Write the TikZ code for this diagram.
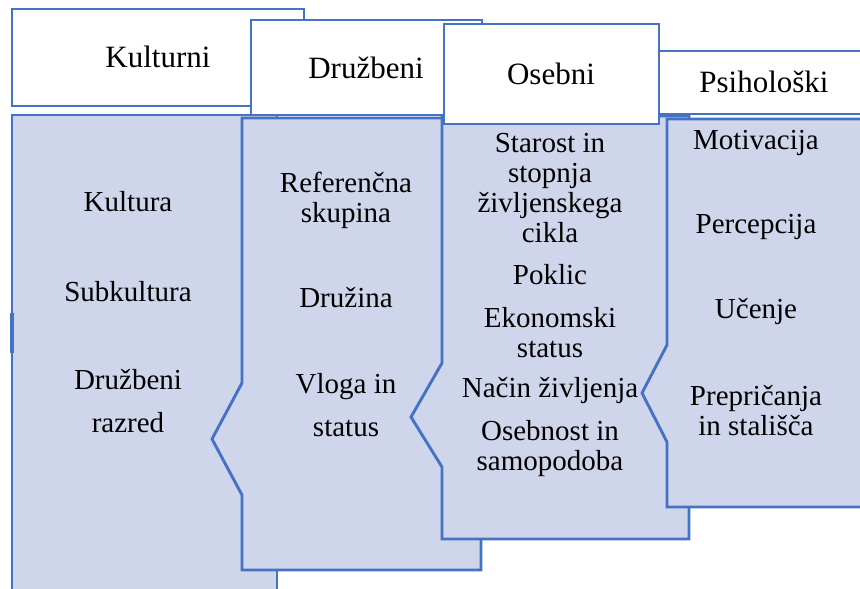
\documentclass[tikz,border=0pt]{standalone}
\usepackage{fontspec}
\setmainfont{Liberation Serif}
\definecolor{edge}{HTML}{4472C4}
\definecolor{panelfill}{HTML}{CFD5EA}
\begin{document}
\begin{tikzpicture}[x=1pt,y=-1pt,
  panel/.style={draw=edge,fill=panelfill,line width=2.9pt,line join=miter},
  headbox/.style={draw=edge,fill=white,line width=2.9pt},
  headtext/.style={inner sep=0pt,font=\fontsize{31}{36}\selectfont},
  item/.style={inner sep=0pt,align=center,font=\fontsize{29}{30}\selectfont},
  wideitem/.style={item,font=\fontsize{29}{43}\selectfont}]
\useasboundingbox (0,0) rectangle (860,589);
\clip (0,0) rectangle (860,589);
\fill[white] (0,0) rectangle (860,589);

% Kulturni
\draw[headbox] (12,9) rectangle (304,106);
\draw[panel] (12,115) rectangle (277,620);
\draw[edge,line width=3.8pt] (11.7,313) -- (11.7,353);

% Družbeni
\draw[headbox] (251,20) rectangle (482,115);
\draw[panel] (242,118) -- (481,118) -- (481,570) -- (242,570) -- (242,495)
  -- (212,439) -- (242,383) -- cycle;

% Osebni (panel), Psihološki (header), Osebni (header)
\draw[panel] (442,116) -- (689,116) -- (689,539) -- (442,539) -- (442,467)
  -- (411,417) -- (442,363) -- cycle;
\draw[headbox] (650,51) rectangle (880,114);
\draw[headbox] (444,24) rectangle (659,124);

% Psihološki panel
\draw[panel] (667,119) -- (880,119) -- (880,507) -- (667,507) -- (667,442)
  -- (642,393) -- (667,345) -- cycle;

% headings
\node[headtext] (h1) at (158,57) {Kulturni};
\node[headtext] (h2) at (366,68) {Družbeni};
\node[headtext] (h3) at (551,74) {Osebni};
\node[headtext] (h4) at (764,82) {Psihološki};

% Kulturni items
\node[item] (a1) at (128,202) {Kultura};
\node[item] (a2) at (128,292) {Subkultura};
\node[wideitem] (a3) at (128,401) {Družbeni\\razred};

% Družbeni items
\node[item] (b1) at (346,200) {Referenčna\\skupina};
\node[item] (b2) at (346,298) {Družina};
\node[wideitem] (b3) at (346,405) {Vloga in\\status};

% Osebni items
\node[item] (c1) at (550,188) {Starost in\\stopnja\\življenskega\\cikla};
\node[item] (c2) at (550,275) {Poklic};
\node[item] (c3) at (550,333) {Ekonomski\\status};
\node[item] (c4) at (550,390) {Način življenja};
\node[item] (c5) at (550,449) {Osebnost in\\samopodoba};

% Psihološki items
\node[item] (d1) at (756,143) {Motivacija};
\node[item] (d2) at (756,227) {Percepcija};
\node[item] (d3) at (756,311) {Učenje};
\node[item] (d4) at (756,411) {Prepričanja\\in stališča};
\end{tikzpicture}
\end{document}
